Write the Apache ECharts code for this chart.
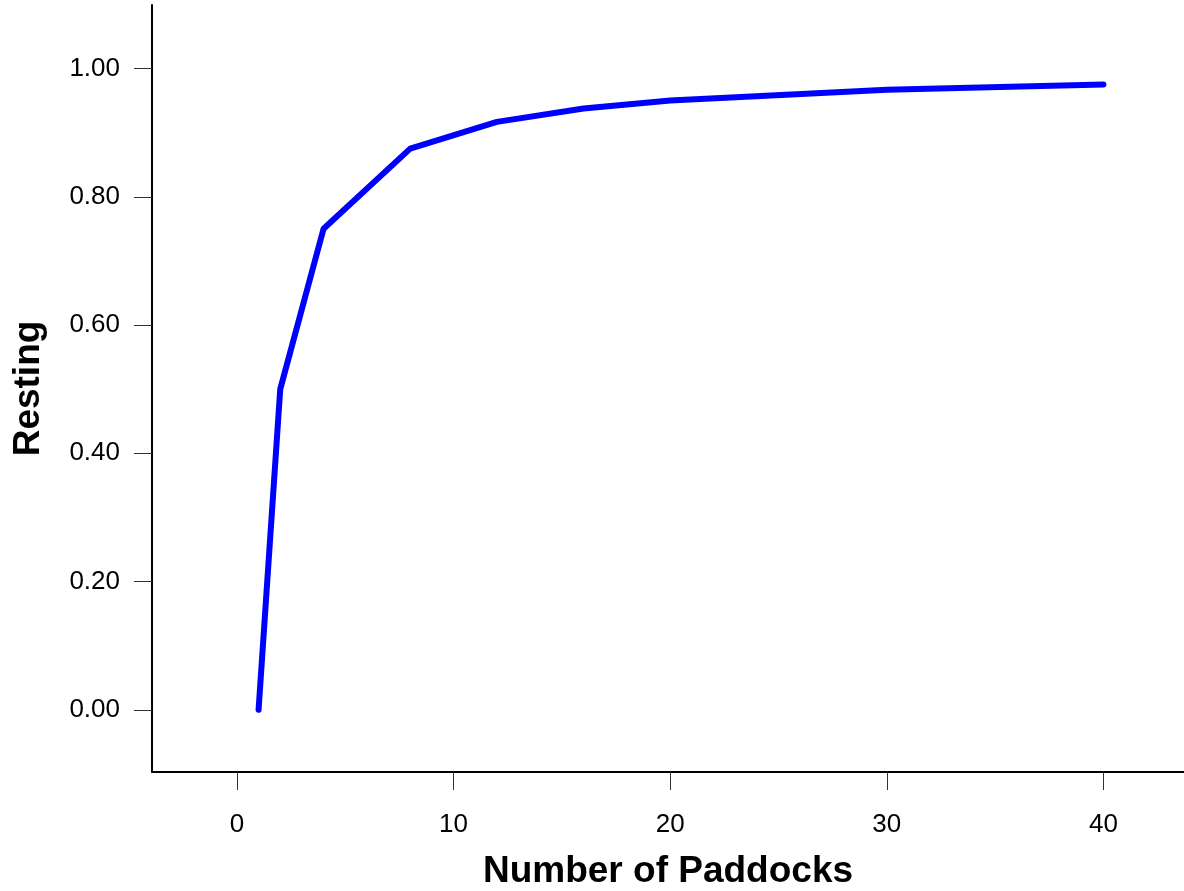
<!DOCTYPE html>
<html>
<head>
<meta charset="utf-8">
<script src="https://cdn.jsdelivr.net/npm/echarts@6/dist/echarts.min.js"></script>
<style>html,body{margin:0;padding:0;background:#fff}#c{width:1184px;height:891px}</style>
</head>
<body>
<div id="c"></div>
<script>
const paddocks = [1, 2, 4, 8, 12, 16, 20, 30, 40];
const resting = [0, 0.5, 0.75, 0.875, 0.9167, 0.9375, 0.95, 0.9667, 0.975];
const xTicks = [0, 10, 20, 30, 40];
const yTicks = [0, 0.2, 0.4, 0.6, 0.8, 1.0];

const chart = echarts.init(document.getElementById('c'));
const font = '"Liberation Sans", Arial, sans-serif';
chart.setOption({
  animation: false,
  grid: {left: 152, right: 0, top: 5, bottom: 119, containLabel: false, outerBoundsMode: 'none'},
  xAxis: {
    type: 'value', min: -3.92, max: 43.72,
    name: 'Number of Paddocks', nameLocation: 'middle', nameGap: 81,
    nameTextStyle: {fontFamily: font, fontSize: 37, fontWeight: 'bold', color: '#000'},
    axisLine: {show: true, onZero: false, lineStyle: {color: '#000', width: 2}},
    axisTick: {show: true, customValues: xTicks, length: 18, lineStyle: {color: '#333', width: 1}},
    axisLabel: {customValues: xTicks, margin: 40, fontFamily: font, fontSize: 26, color: '#000'},
    splitLine: {show: false}
  },
  yAxis: {
    type: 'value', min: -0.097, max: 1.099,
    name: 'Resting', nameLocation: 'middle', nameGap: 105,
    nameTextStyle: {fontFamily: font, fontSize: 37, fontWeight: 'bold', color: '#000'},
    axisLine: {show: true, onZero: false, lineStyle: {color: '#000', width: 2}},
    axisTick: {show: true, customValues: yTicks, length: 18, lineStyle: {color: '#333', width: 1}},
    axisLabel: {customValues: yTicks, margin: 32, fontFamily: font, fontSize: 26, color: '#000',
      formatter: v => v.toFixed(2)},
    splitLine: {show: false}
  },
  series: [{
    type: 'line',
    data: paddocks.map((x, i) => [x, resting[i]]),
    showSymbol: false,
    lineStyle: {color: '#0000ff', width: 6, cap: 'round', join: 'round'},
    itemStyle: {color: '#0000ff'}
  }]
});
</script>
</body>
</html>
